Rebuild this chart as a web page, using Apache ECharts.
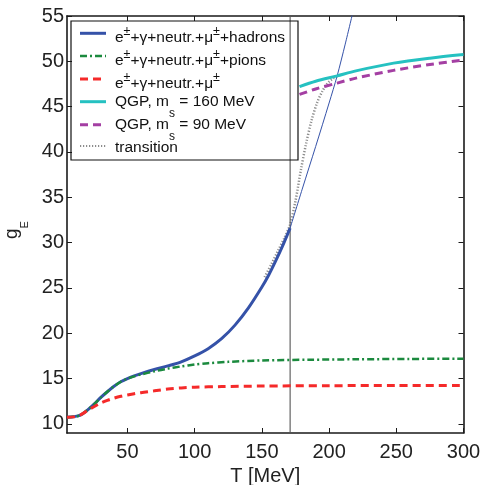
<!DOCTYPE html>
<html>
<head>
<meta charset="utf-8">
<script src="https://cdn.jsdelivr.net/npm/echarts@6/dist/echarts.min.js"></script>
<style>
  html, body { margin: 0; padding: 0; background: #fff; }
  #chart { width: 494px; height: 485px; }
</style>
</head>
<body>
<div id="chart"></div>
<script>
// Tick positions
const xTicks = [50, 100, 150, 200, 250, 300];
const yTicks = [10, 15, 20, 25, 30, 35, 40, 45, 50, 55];

// Critical temperature (MeV)
const tCritical = 171;

// e± + γ + neutrinos + μ± + hadrons (below Tc)
const tHadron = [5, 10, 15, 20, 25, 30, 35, 40, 45, 50, 55, 60, 70, 80, 90, 100, 110, 120, 130, 140, 150, 155, 160, 165, 171];
const gHadron = [10.75, 10.8, 10.97, 11.5, 12.15, 12.9, 13.55, 14.15, 14.65, 15.0, 15.3, 15.55, 16.0, 16.4, 16.85, 17.5, 18.3, 19.4, 20.9, 22.8, 25.1, 26.4, 27.9, 29.5, 31.6];

// hadron gas continued above Tc
const tHadronExt = [171, 180, 190, 200, 206, 212, 218];
const gHadronExt = [31.6, 35.9, 40.6, 45.4, 48.4, 51.9, 55.6];

// e± + γ + neutrinos + μ± + pions
const tPion = [5, 10, 15, 20, 25, 30, 35, 40, 45, 50, 55, 60, 70, 80, 90, 100, 110, 125, 150, 185, 220, 260, 300];
const gPion = [10.75, 10.8, 10.97, 11.5, 12.15, 12.9, 13.55, 14.15, 14.65, 15.0, 15.25, 15.45, 15.8, 16.1, 16.35, 16.55, 16.7, 16.85, 17.0, 17.08, 17.13, 17.17, 17.2];

// e± + γ + neutrinos + μ±
const tLepton = [5, 10, 15, 20, 25, 30, 35, 40, 45, 50, 60, 70, 80, 90, 100, 120, 150, 200, 250, 300];
const gLepton = [10.75, 10.78, 11.0, 11.45, 11.9, 12.3, 12.6, 12.85, 13.05, 13.2, 13.45, 13.65, 13.85, 13.97, 14.05, 14.12, 14.18, 14.22, 14.24, 14.25];

// quark-gluon plasma
const tQgp = [178, 190, 206, 220, 248, 275, 300];
const gQgp160 = [47.2, 47.8, 48.4, 48.95, 49.8, 50.35, 50.75];
const gQgp90 = [46.35, 46.95, 47.6, 48.15, 49.0, 49.65, 50.15];

// transition region
const tTrans = [152, 157, 162, 167, 171, 175, 179, 183, 187, 191, 195, 199, 203, 207];
const gTrans = [26.2, 27.6, 29.1, 30.6, 32.0, 34.6, 38.0, 41.0, 43.5, 45.4, 46.7, 47.6, 48.1, 48.4];

const zip = (xs, ys) => xs.map((x, i) => [x, ys[i]]);

const FONT = "'Liberation Sans', Arial, Helvetica, sans-serif";
const AXIS_COLOR = '#1a1a1a';
const C_BLUE = '#3552a8';
const C_GREEN = '#1b8a3e';
const C_RED = '#f52a2a';
const C_CYAN = '#25c1c1';
const C_MAGENTA = '#a43fa3';
const C_GREY = '#8c8c8c';

const DASH_DOT = [7, 3, 2, 3];
const DASH = [8, 5];
const DOT = [1.2, 1.8];

const axisX = (pos, labels) => ({
  type: 'value', position: pos, min: 5, max: 300,
  axisLine: { show: true, onZero: false, lineStyle: { color: AXIS_COLOR, width: 1.6 } },
  axisTick: { show: true, inside: true, length: 5, customValues: xTicks, lineStyle: { color: AXIS_COLOR, width: 1 } },
  axisLabel: { show: labels, customValues: xTicks, margin: 9, fontSize: 20, color: '#222', fontFamily: FONT },
  splitLine: { show: false }
});
const axisY = (pos, labels) => ({
  type: 'value', position: pos, min: 9, max: 55,
  axisLine: { show: true, onZero: false, lineStyle: { color: AXIS_COLOR, width: 1.6 } },
  axisTick: { show: true, inside: true, length: 5, customValues: yTicks, lineStyle: { color: AXIS_COLOR, width: 1 } },
  axisLabel: { show: labels, customValues: yTicks, margin: 3, fontSize: 20, color: '#222', fontFamily: FONT },
  splitLine: { show: false }
});

const xMain = axisX('bottom', true);
xMain.name = 'T [MeV]';
xMain.nameLocation = 'middle';
xMain.nameGap = 30;
xMain.nameTextStyle = { fontSize: 20, color: '#222', fontFamily: FONT };

const yMain = axisY('left', true);
yMain.name = '{g|g}{e|E}';
yMain.nameLocation = 'middle';
yMain.nameGap = 25;
yMain.nameTextStyle = {
  color: '#222', fontFamily: FONT,
  rich: {
    g: { fontSize: 19, verticalAlign: 'middle', color: '#222', fontFamily: FONT },
    e: { fontSize: 11, verticalAlign: 'middle', padding: [27, 11, 0, 0], color: '#222', fontFamily: FONT }
  }
};

const lineSeries = (name, data, color, width, type, z) => ({
  name, type: 'line', data, showSymbol: false, symbol: 'none',
  smooth: 0.3, clip: true, z,
  lineStyle: { color, width, type }
});

// legend drawn as graphic elements
const legendRows = [
  { y: 33.3, ty: 37.5, color: C_BLUE, width: 3, dash: null, text: '{n|e}{sup|±}{n|+γ+neutr.+μ}{sup|±}{n|+hadrons}' },
  { y: 56, ty: 60.8, color: C_GREEN, width: 2.5, dash: DASH_DOT, text: '{n|e}{sup|±}{n|+γ+neutr.+μ}{sup|±}{n|+pions}' },
  { y: 79, ty: 84, color: C_RED, width: 3, dash: DASH, text: '{n|e}{sup|±}{n|+γ+neutr.+μ}{sup|±}' },
  { y: 101.7, ty: 101.7, color: C_CYAN, width: 3, dash: null, text: '{n|QGP, m}{sub|s}{n| = 160 MeV}' },
  { y: 124.7, ty: 125, color: C_MAGENTA, width: 3, dash: DASH, text: '{n|QGP, m}{sub|s}{n| = 90 MeV}' },
  { y: 146, ty: 147.5, color: C_GREY, width: 2, dash: DOT, text: '{n|transition}' }
];
const richLegend = {
  n: { fontSize: 15.5, verticalAlign: 'middle', fill: '#111', fontFamily: FONT },
  sup: { fontSize: 12.5, verticalAlign: 'middle', padding: [0, 0, 12, 0], fill: '#111', fontFamily: FONT },
  sub: { fontSize: 12, verticalAlign: 'middle', padding: [23, 0, 0, 0], fill: '#111', fontFamily: FONT }
};
const graphics = [{
  type: 'rect', z: 100,
  shape: { x: 71, y: 21, width: 227, height: 139 },
  style: { fill: 'rgba(0,0,0,0)', stroke: '#111', lineWidth: 1.2 }
}];
legendRows.forEach(r => {
  graphics.push({
    type: 'line', z: 101,
    shape: { x1: 80, y1: r.y, x2: 106, y2: r.y },
    style: { stroke: r.color, lineWidth: r.width, lineDash: r.dash || null }
  });
  graphics.push({
    type: 'text', z: 101, x: 115, y: r.ty,
    style: { text: r.text, rich: richLegend, align: 'left', verticalAlign: 'middle', fontFamily: FONT, fontSize: 15.5, fill: '#111' }
  });
});

const chart = echarts.init(document.getElementById('chart'), null, { renderer: 'canvas' });
chart.setOption({
  animation: false,
  backgroundColor: '#fff',
  grid: { left: 67, right: 30.5, top: 16, bottom: 52, containLabel: false, outerBoundsMode: 'none' },
  xAxis: [xMain, axisX('top', false)],
  yAxis: [yMain, axisY('right', false)],
  series: [
    lineSeries('hadrons', zip(tHadron, gHadron), C_BLUE, 3, 'solid', 2),
    lineSeries('hadrons-ext', zip(tHadronExt, gHadronExt), C_BLUE, 1, 'solid', 2),
    lineSeries('pions', zip(tPion, gPion), C_GREEN, 2.5, DASH_DOT, 3),
    lineSeries('leptons', zip(tLepton, gLepton), C_RED, 3, DASH, 4),
    lineSeries('qgp160', zip(tQgp, gQgp160), C_CYAN, 3, 'solid', 3),
    lineSeries('qgp90', zip(tQgp, gQgp90), C_MAGENTA, 3, DASH, 4),
    lineSeries('transition', zip(tTrans, gTrans), C_GREY, 2.5, DOT, 1),
    {
      name: 'Tc', type: 'line', data: [[tCritical, 9], [tCritical, 55]],
      showSymbol: false, symbol: 'none', z: 1,
      lineStyle: { color: '#555', width: 1.1 }
    }
  ],
  graphic: graphics
});
</script>
</body>
</html>
